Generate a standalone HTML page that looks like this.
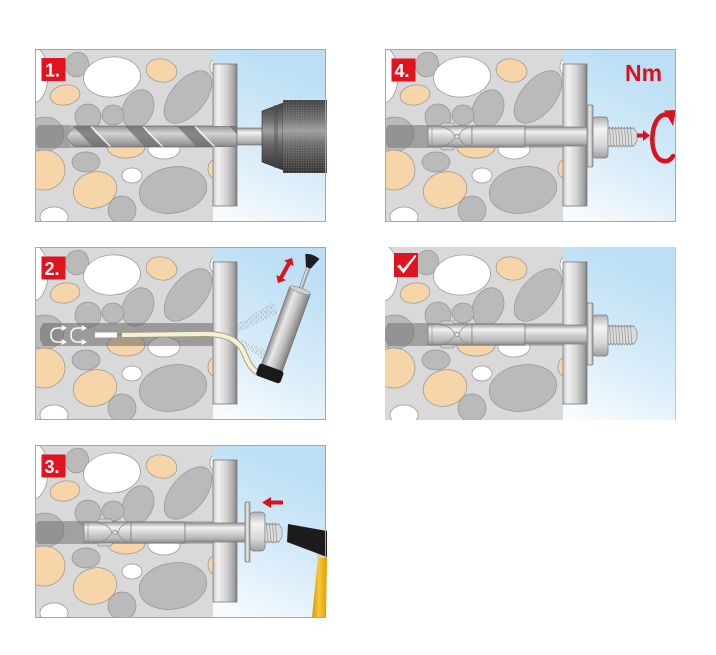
<!DOCTYPE html>
<html><head><meta charset="utf-8">
<style>
html,body{margin:0;padding:0;background:#fff;}
svg{display:block;}
</style></head><body>
<svg width="716" height="655" viewBox="0 0 716 655" xmlns="http://www.w3.org/2000/svg" xmlns:xlink="http://www.w3.org/1999/xlink">
<defs>
 <linearGradient id="sky" x1="0.3" y1="0" x2="0" y2="1">
  <stop offset="0" stop-color="#bcdff5"/>
  <stop offset="0.55" stop-color="#daedf9"/>
  <stop offset="1" stop-color="#fbfdff"/>
 </linearGradient>
 <linearGradient id="plate" x1="0" y1="0" x2="1" y2="0">
  <stop offset="0" stop-color="#c4c4c4"/>
  <stop offset="0.2" stop-color="#f2f2f2"/>
  <stop offset="0.6" stop-color="#cfcfcf"/>
  <stop offset="0.88" stop-color="#a2a2a2"/>
  <stop offset="1" stop-color="#7c7c7c"/>
 </linearGradient>
 <linearGradient id="metalV" x1="0" y1="0" x2="0" y2="1">
  <stop offset="0" stop-color="#9a9a9a"/>
  <stop offset="0.25" stop-color="#f2f2f2"/>
  <stop offset="0.5" stop-color="#d4d4d4"/>
  <stop offset="0.8" stop-color="#b8b8b8"/>
  <stop offset="1" stop-color="#8a8a8a"/>
 </linearGradient>
 <linearGradient id="metalH" x1="0" y1="0" x2="1" y2="0">
  <stop offset="0" stop-color="#8c8c8c"/>
  <stop offset="0.3" stop-color="#e8e8e8"/>
  <stop offset="0.6" stop-color="#c4c4c4"/>
  <stop offset="1" stop-color="#7e7e7e"/>
 </linearGradient>
 <linearGradient id="washer" x1="0" y1="0" x2="1" y2="0">
  <stop offset="0" stop-color="#a8a8a8"/>
  <stop offset="0.5" stop-color="#ececec"/>
  <stop offset="1" stop-color="#9a9a9a"/>
 </linearGradient>
 <linearGradient id="nutg" x1="0" y1="0" x2="0" y2="1">
  <stop offset="0" stop-color="#b0b0b0"/>
  <stop offset="0.3" stop-color="#f4f4f4"/>
  <stop offset="0.7" stop-color="#d6d6d6"/>
  <stop offset="1" stop-color="#a0a0a0"/>
 </linearGradient>
 <linearGradient id="drillg" x1="0" y1="0" x2="0" y2="1">
  <stop offset="0" stop-color="#939393"/>
  <stop offset="0.35" stop-color="#d2d2d2"/>
  <stop offset="0.7" stop-color="#adadad"/>
  <stop offset="1" stop-color="#858585"/>
 </linearGradient>
 <linearGradient id="chuck" x1="0" y1="0" x2="0" y2="1">
  <stop offset="0" stop-color="#404040"/>
  <stop offset="0.25" stop-color="#6e6e6e"/>
  <stop offset="0.42" stop-color="#a0a0a0"/>
  <stop offset="0.6" stop-color="#6c6c6c"/>
  <stop offset="1" stop-color="#323232"/>
 </linearGradient>
 <linearGradient id="handle" x1="0" y1="0" x2="1" y2="0">
  <stop offset="0" stop-color="#d89200"/>
  <stop offset="0.45" stop-color="#f7c73c"/>
  <stop offset="1" stop-color="#e0a000"/>
 </linearGradient>
 <pattern id="knurl" width="2.5" height="2.5" patternUnits="userSpaceOnUse">
  <circle cx="1.2" cy="1.2" r="0.55" fill="#bdbdbd" fill-opacity="0.45"/>
 </pattern>
 <pattern id="dust" width="5" height="5" patternUnits="userSpaceOnUse">
  <circle cx="1" cy="1" r="0.6" fill="#6e6e6e"/>
  <circle cx="3.5" cy="2.2" r="0.5" fill="#808080"/>
  <circle cx="2" cy="4" r="0.55" fill="#707070"/>
  <circle cx="4.3" cy="4.4" r="0.45" fill="#858585"/>
 </pattern>
 <clipPath id="cc"><rect x="0" y="0" width="178" height="173"/></clipPath>
 <clipPath id="drillclip"><path d="M31,88 L38,78 L40,77 L202,77 L202,98 L40,98 L38,97 Z"/></clipPath>
 <g id="conc">
  <rect x="0" y="0" width="178" height="173" fill="#d9d9d9"/>
  <g clip-path="url(#cc)" stroke="#949494" stroke-width="0.7">
   <ellipse cx="-2" cy="26" rx="15" ry="28" fill="#fff"/>
   <ellipse cx="42" cy="15.5" rx="11.5" ry="12.5" transform="rotate(20 42 15.5)" fill="#bababa"/>
   <ellipse cx="77" cy="28" rx="28.5" ry="20" transform="rotate(-5 77 28)" fill="#fff"/>
   <ellipse cx="126.5" cy="21.5" rx="15.5" ry="11.5" transform="rotate(10 126.5 21.5)" fill="#f6d6a9"/>
   <ellipse cx="30" cy="46" rx="15" ry="10" transform="rotate(-10 30 46)" fill="#f6d6a9"/>
   <ellipse cx="153" cy="48" rx="31" ry="17" transform="rotate(-50 153 48)" fill="#bababa"/>
   <ellipse cx="103" cy="60" rx="15" ry="20" transform="rotate(25 103 60)" fill="#bababa"/>
   <ellipse cx="78" cy="66" rx="11" ry="10" fill="#bababa"/>
   <ellipse cx="53" cy="68" rx="13" ry="13" fill="#bababa"/>
   <ellipse cx="10" cy="85" rx="19" ry="17" fill="#bababa"/>
   <ellipse cx="91" cy="98" rx="19" ry="11" fill="#f6d6a9"/>
   <ellipse cx="129" cy="100" rx="16" ry="10" fill="#fff"/>
   <ellipse cx="9" cy="121" rx="21" ry="20" fill="#f6d6a9"/>
   <ellipse cx="51" cy="113" rx="14" ry="10" fill="#bababa"/>
   <ellipse cx="60" cy="141" rx="22" ry="18" transform="rotate(-15 60 141)" fill="#f6d6a9"/>
   <ellipse cx="97" cy="126.5" rx="10" ry="7.5" fill="#fff"/>
   <ellipse cx="138" cy="141" rx="34" ry="23" transform="rotate(-10 138 141)" fill="#bababa"/>
   <ellipse cx="87" cy="161" rx="14" ry="14" fill="#bababa"/>
   <ellipse cx="19" cy="168" rx="14" ry="10" fill="#fff"/>
   <ellipse cx="179" cy="120" rx="6" ry="9" fill="#f6d6a9"/>
   <ellipse cx="180" cy="18" rx="5" ry="8" fill="#fff"/>
  </g>
 </g>
</defs>

<rect width="716" height="655" fill="#fff"/>

<!-- PANEL 1 -->
<g transform="translate(35,49)">
 <use xlink:href="#conc" href="#conc"/>
 <rect x="178" y="0" width="113" height="173" fill="url(#sky)"/>
 <path d="M3,76 L178,76 L178,99 L3,99 L0,93 L0,82 Z" fill="#6a6a6a" fill-opacity="0.35"/>
 <path d="M3,76 L35,76 L35,99 L3,99 L0,93 L0,82 Z" fill="#7a7a7a" fill-opacity="0.3"/>
 <rect x="178" y="15" width="24" height="142" fill="url(#plate)" stroke="#7a7a7a" stroke-width="0.8"/>
 <g clip-path="url(#drillclip)">
  <rect x="31" y="77" width="171" height="21" fill="url(#drillg)"/>
  <path d="M38,77 L54,77 L74,98 L58,98 Z M90,77 L106,77 L126,98 L110,98 Z M142,77 L158,77 L178,98 L162,98 Z M194,77 L210,77 L230,98 L214,98 Z" fill="#6e6e6e" fill-opacity="0.75"/>
  <path d="M56,77 Q64,86 76,98 M108,77 Q116,86 128,98 M160,77 Q168,86 180,98" fill="none" stroke="#fff" stroke-width="1.2" stroke-opacity="0.9"/>
  <path d="M31,88 L38,78 L40,77 L202,77 L202,98 L40,98 L38,97 Z" fill="none" stroke="#666" stroke-width="0.8"/>
 </g>
 <rect x="202" y="79" width="26" height="17" fill="url(#metalV)" stroke="#666" stroke-width="0.6"/>
 <path d="M227,62 L248,54 L248,121 L227,113 Z" fill="url(#chuck)" stroke="#333" stroke-width="0.6"/>
 <rect x="239" y="56" width="4" height="63" fill="#4a4a4a" fill-opacity="0.4"/>
 <rect x="248" y="51" width="44" height="73" fill="url(#chuck)"/>
 <rect x="248" y="51" width="44" height="73" fill="url(#knurl)"/>
 <rect x="0.5" y="0.5" width="290" height="172" fill="none" stroke="#a6a6a6" stroke-width="1"/>
 <rect x="6.5" y="9" width="24" height="23" fill="#e0131f"/>
 <text x="10" y="27.5" font-family="Liberation Sans, Arial, sans-serif" font-weight="bold" font-size="18" fill="#fff">1.</text>
</g>

<!-- PANEL 4 -->
<g transform="translate(385,49)">
 <use xlink:href="#conc" href="#conc"/>
 <rect x="178" y="0" width="113" height="173" fill="url(#sky)"/>
 <path d="M3,76 L178,76 L178,99 L3,99 L0,93 L0,82 Z" fill="#6a6a6a" fill-opacity="0.35"/>
 <path d="M3,76 L43,76 L43,99 L3,99 L0,93 L0,82 Z" fill="#7a7a7a" fill-opacity="0.3"/>
 <rect x="178" y="15" width="24" height="142" fill="url(#plate)" stroke="#7a7a7a" stroke-width="0.8"/>
 <rect x="43" y="77" width="44" height="21" fill="url(#metalV)" stroke="#7a7a7a" stroke-width="0.7"/>
 <line x1="47" y1="77" x2="47" y2="98" stroke="#888" stroke-width="0.6"/>
 <path d="M56,78 Q66,79 70,87.5 Q66,96 56,97 M84,78 Q76,80 74,87.5 Q76,95 84,97" fill="none" stroke="#8a8a8a" stroke-width="0.7"/>
 <circle cx="72" cy="87.5" r="2.2" fill="#e0e0e0" stroke="#777" stroke-width="0.6"/>
 <path d="M55,77 L57,74 L68,74 L70,77 Z M55,98 L57,101 L68,101 L70,98 Z" fill="#cfcfcf" stroke="#7a7a7a" stroke-width="0.6"/>
 <rect x="87" y="77" width="53" height="21" fill="url(#metalV)" stroke="#7a7a7a" stroke-width="0.7"/>
 <rect x="140" y="78" width="63" height="19" fill="url(#metalV)" stroke="#7a7a7a" stroke-width="0.7"/>
 <rect x="202" y="56" width="6" height="62" rx="1.5" fill="url(#washer)" stroke="#777" stroke-width="0.7"/>
 <rect x="208" y="68" width="15" height="41" rx="3" fill="url(#nutg)" stroke="#777" stroke-width="0.7"/>
 <path d="M223,80 L224.5,78 L226,80 L227.5,78 L229,80 L230.5,78 L232,80 L233.5,78 L235,80 L236.5,78 L238,80 L239.5,78 L241,80 L242.5,78 L244,80 L245.5,78 L247,80 L248.5,78.5 L250,81 L252,84 L252,92 L250,95 L248.5,97.5 L247,96 L245.5,98 L244,96 L242.5,98 L241,96 L239.5,98 L238,96 L236.5,98 L235,96 L233.5,98 L232,96 L230.5,98 L229,96 L227.5,98 L226,96 L224.5,98 L223,96 Z" fill="#dcdcdc" stroke="#7a7a7a" stroke-width="0.6"/>
 <path d="M224.5,78.5 L226,97.5 M227.5,78.5 L229,97.5 M230.5,78.5 L232,97.5 M233.5,78.5 L235,97.5 M236.5,78.5 L238,97.5 M239.5,78.5 L241,97.5 M242.5,78.5 L244,97.5 M245.5,78.5 L247,97.5" stroke="#8a8a8a" stroke-width="0.6"/>
 <path d="M252,84.5 L258,84.5 L258,81 L265,86.5 L258,92 L258,88.5 L252,88.5 Z" fill="#d7141e"/>
 <path d="M283,66 C265,61 261,110 279,112 C283,112.5 286,110.5 288,107" fill="none" stroke="#d7141e" stroke-width="4.5" stroke-linecap="round"/>
 <path d="M279,61.5 L291,61 L288,77 Z" fill="#d7141e"/>
 <text x="240" y="32" font-family="Liberation Sans, Arial, sans-serif" font-weight="bold" font-size="23" fill="#d7141e">Nm</text>
 <rect x="0.5" y="0.5" width="290" height="172" fill="none" stroke="#a6a6a6" stroke-width="1"/>
 <rect x="6.5" y="9.5" width="24" height="23" fill="#e0131f"/>
 <text x="9.5" y="28" font-family="Liberation Sans, Arial, sans-serif" font-weight="bold" font-size="18" fill="#fff">4.</text>
</g>

<!-- PANEL 2 -->
<g transform="translate(35,247)">
 <use xlink:href="#conc" href="#conc"/>
 <rect x="178" y="0" width="113" height="173" fill="url(#sky)"/>
 <path d="M8,76 L178,76 L178,99 L8,99 L5,93 L5,82 Z" fill="#5e5e5e" fill-opacity="0.5"/>
 <g fill="none" stroke="#fff" stroke-width="1.4" stroke-linecap="round">
  <path d="M30,81 H23 Q16,81 16,88 Q16,95 23,95 H30"/>
  <path d="M27,79 L30.5,81 L27,83 M27,93 L30.5,95 L27,97"/>
  <path d="M50,81 H43 Q36,81 36,88 Q36,95 43,95 H50"/>
  <path d="M47,79 L50.5,81 L47,83 M47,93 L50.5,95 L47,97"/>
 </g>
 <rect x="60" y="85.5" width="22" height="5" fill="#fff"/>
 <rect x="178" y="15" width="24" height="142" fill="url(#plate)" stroke="#7a7a7a" stroke-width="0.8"/>
 <path d="M196,81 L238,55 L243,66 L199,88 Z" fill="url(#dust)" fill-opacity="0.85"/>
 <path d="M201,90 L236,105 L233,116 L202,95 Z" fill="url(#dust)" fill-opacity="0.85"/>
 <path d="M87,88 L165,87 C195,86 205,95 210,108 C214,118 218,124 224,126" fill="none" stroke="#a59c76" stroke-width="6"/>
 <path d="M87,88 L165,87 C195,86 205,95 210,108 C214,118 218,124 224,126" fill="none" stroke="#f4f0da" stroke-width="4.2"/>
 <g transform="translate(235,126) rotate(20)">
  <rect x="-1.8" y="-113" width="3.6" height="28" fill="url(#metalH)" stroke="#777" stroke-width="0.4"/>
  <path d="M-2.5,-112 L-7.5,-124 Q0,-127 7.5,-124 L2.5,-112 Z" fill="#1e1e1e"/>
  <rect x="-11" y="-88" width="22" height="84" fill="url(#metalH)" stroke="#6a6a6a" stroke-width="0.6"/>
  <ellipse cx="0" cy="-88" rx="11" ry="2.5" fill="#d0d0d0" stroke="#777" stroke-width="0.5"/>
  <rect x="-13" y="-6" width="26" height="13" rx="3" fill="#1a1a1a"/>
 </g>
 <path d="M-14.5,0 L-8,-5.5 L-8,-2 L8,-2 L8,-5.5 L14.5,0 L8,5.5 L8,2 L-8,2 L-8,5.5 Z" fill="#d7141e" transform="translate(250,23.5) rotate(-61)"/>
 <rect x="0.5" y="0.5" width="290" height="172" fill="none" stroke="#a6a6a6" stroke-width="1"/>
 <rect x="6.5" y="9.5" width="24" height="23" fill="#e0131f"/>
 <text x="9.5" y="28" font-family="Liberation Sans, Arial, sans-serif" font-weight="bold" font-size="18" fill="#fff">2.</text>
</g>

<!-- PANEL 5 (check) -->
<g transform="translate(385,247)">
 <use xlink:href="#conc" href="#conc"/>
 <rect x="178" y="0" width="113" height="173" fill="url(#sky)"/>
 <path d="M3,76 L178,76 L178,99 L3,99 L0,93 L0,82 Z" fill="#6a6a6a" fill-opacity="0.35"/>
 <path d="M3,76 L43,76 L43,99 L3,99 L0,93 L0,82 Z" fill="#7a7a7a" fill-opacity="0.3"/>
 <rect x="178" y="15" width="24" height="142" fill="url(#plate)" stroke="#7a7a7a" stroke-width="0.8"/>
 <rect x="43" y="77" width="44" height="21" fill="url(#metalV)" stroke="#7a7a7a" stroke-width="0.7"/>
 <line x1="47" y1="77" x2="47" y2="98" stroke="#888" stroke-width="0.6"/>
 <path d="M56,78 Q66,79 70,87.5 Q66,96 56,97 M84,78 Q76,80 74,87.5 Q76,95 84,97" fill="none" stroke="#8a8a8a" stroke-width="0.7"/>
 <circle cx="72" cy="87.5" r="2.2" fill="#e0e0e0" stroke="#777" stroke-width="0.6"/>
 <path d="M55,77 L57,74 L68,74 L70,77 Z M55,98 L57,101 L68,101 L70,98 Z" fill="#cfcfcf" stroke="#7a7a7a" stroke-width="0.6"/>
 <rect x="87" y="77" width="53" height="21" fill="url(#metalV)" stroke="#7a7a7a" stroke-width="0.7"/>
 <rect x="140" y="78" width="63" height="19" fill="url(#metalV)" stroke="#7a7a7a" stroke-width="0.7"/>
 <rect x="202" y="56" width="6" height="62" rx="1.5" fill="url(#washer)" stroke="#777" stroke-width="0.7"/>
 <rect x="208" y="68" width="15" height="41" rx="3" fill="url(#nutg)" stroke="#777" stroke-width="0.7"/>
 <path d="M223,80 L224.5,78 L226,80 L227.5,78 L229,80 L230.5,78 L232,80 L233.5,78 L235,80 L236.5,78 L238,80 L239.5,78 L241,80 L242.5,78 L244,80 L245.5,78 L247,80 L248.5,78.5 L250,81 L252,84 L252,92 L250,95 L248.5,97.5 L247,96 L245.5,98 L244,96 L242.5,98 L241,96 L239.5,98 L238,96 L236.5,98 L235,96 L233.5,98 L232,96 L230.5,98 L229,96 L227.5,98 L226,96 L224.5,98 L223,96 Z" fill="#dcdcdc" stroke="#7a7a7a" stroke-width="0.6"/>
 <path d="M224.5,78.5 L226,97.5 M227.5,78.5 L229,97.5 M230.5,78.5 L232,97.5 M233.5,78.5 L235,97.5 M236.5,78.5 L238,97.5 M239.5,78.5 L241,97.5 M242.5,78.5 L244,97.5 M245.5,78.5 L247,97.5" stroke="#8a8a8a" stroke-width="0.6"/>
 <line x1="290.5" y1="0" x2="290.5" y2="173" stroke="#c4c4c4" stroke-width="1"/>
 <rect x="9" y="6" width="24" height="24" fill="#e0131f"/>
 <path d="M12,19 L15,17.5 L18,22 L30,8 L31.5,9 L18.5,26.5 Z" fill="#fff"/>
</g>

<!-- PANEL 3 -->
<g transform="translate(35,445)">
 <use xlink:href="#conc" href="#conc"/>
 <rect x="178" y="0" width="113" height="173" fill="url(#sky)"/>
 <path d="M3,76 L178,76 L178,99 L3,99 L0,93 L0,82 Z" fill="#6a6a6a" fill-opacity="0.35"/>
 <path d="M3,76 L49,76 L49,99 L3,99 L0,93 L0,82 Z" fill="#7a7a7a" fill-opacity="0.3"/>
 <rect x="178" y="15" width="24" height="142" fill="url(#plate)" stroke="#7a7a7a" stroke-width="0.8"/>
 <rect x="49" y="77" width="47" height="21" fill="url(#metalV)" stroke="#7a7a7a" stroke-width="0.7"/>
 <line x1="53" y1="77" x2="53" y2="98" stroke="#888" stroke-width="0.6"/>
 <path d="M63,78 Q73,79 77,87.5 Q73,96 63,97 M93,78 Q85,80 83,87.5 Q85,95 93,97" fill="none" stroke="#8a8a8a" stroke-width="0.7"/>
 <circle cx="80" cy="87.5" r="2.2" fill="#e0e0e0" stroke="#777" stroke-width="0.6"/>
 <path d="M62,77 L64,74 L76,74 L78,77 Z M62,98 L64,101 L76,101 L78,98 Z" fill="#cfcfcf" stroke="#7a7a7a" stroke-width="0.6"/>
 <rect x="96" y="77" width="54" height="21" fill="url(#metalV)" stroke="#7a7a7a" stroke-width="0.7"/>
 <rect x="150" y="78" width="61" height="19" fill="url(#metalV)" stroke="#7a7a7a" stroke-width="0.7"/>
 <rect x="210" y="57" width="5" height="60" rx="1.5" fill="url(#washer)" stroke="#777" stroke-width="0.7"/>
 <rect x="215" y="67" width="15" height="39" rx="4" fill="url(#nutg)" stroke="#777" stroke-width="0.7"/>
 <path d="M230,80 L231.5,78 L233,80 L234.5,78 L236,80 L237.5,78 L239,80 L240.5,78 L242,80 L243.5,78.5 L245,81 L247,84 L247,92 L245,95 L243.5,97.5 L242,96 L240.5,98 L239,96 L237.5,98 L236,96 L234.5,98 L233,96 L231.5,98 L230,96 Z" fill="#dcdcdc" stroke="#7a7a7a" stroke-width="0.6"/>
 <path d="M231.5,78.5 L233,97.5 M234.5,78.5 L236,97.5 M237.5,78.5 L239,97.5 M240.5,78.5 L242,97.5" stroke="#8a8a8a" stroke-width="0.6"/>
 <path d="M248,55.5 L236,55.5 L236,52 L227,57.5 L236,63 L236,59.5 L248,59.5 Z" fill="#d7141e"/>
 <path d="M283,112 L292,112 L291,173 L277,173 Z" fill="url(#handle)"/>
 <rect x="282" y="101" width="10" height="12" fill="#d0d0d0"/>
 <path d="M253,79 L292,86 L292,112 L252,97 Z" fill="#1c1c1c"/>
 <rect x="0.5" y="0.5" width="290" height="172" fill="none" stroke="#a6a6a6" stroke-width="1"/>
 <rect x="6.5" y="9.5" width="24" height="23" fill="#e0131f"/>
 <text x="9.5" y="28" font-family="Liberation Sans, Arial, sans-serif" font-weight="bold" font-size="18" fill="#fff">3.</text>
</g>
</svg>
</body></html>
